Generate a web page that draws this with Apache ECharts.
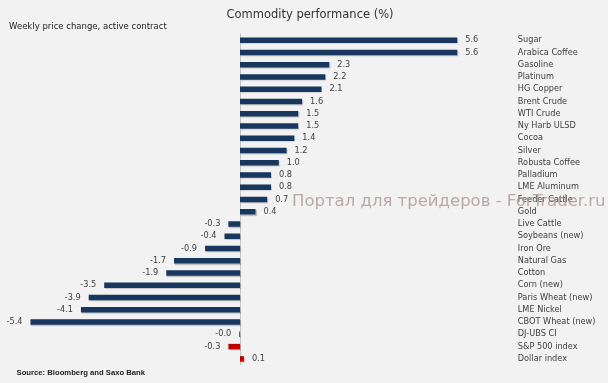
<!DOCTYPE html>
<html>
<head>
<meta charset="utf-8">
<script src="https://cdn.jsdelivr.net/npm/echarts@6/dist/echarts.min.js"></script>
<style>
html,body{margin:0;padding:0;background:#f2f2f2;}
#chart{width:608px;height:383px;}
</style>
</head>
<body>
<div id="chart"></div>
<script>
const categories = ["Sugar","Arabica Coffee","Gasoline","Platinum","HG Copper","Brent Crude","WTI Crude","Ny Harb ULSD","Cocoa","Silver","Robusta Coffee","Palladium","LME Aluminum","Feeder Cattle","Gold","Live Cattle","Soybeans (new)","Iron Ore","Natural Gas","Cotton","Corn (new)","Paris Wheat (new)","LME Nickel","CBOT Wheat (new)","DJ-UBS CI","S&P 500 index","Dollar index"];
const values = [5.6,5.6,2.3,2.2,2.1,1.6,1.5,1.5,1.4,1.2,1.0,0.8,0.8,0.7,0.4,-0.3,-0.4,-0.9,-1.7,-1.9,-3.5,-3.9,-4.1,-5.4,-0.02,-0.3,0.1];
const indexCategories = ["DJ-UBS CI","S&P 500 index","Dollar index"];
const titleText = "Commodity performance (%)";
const subtitleText = "Weekly price change, active contract";
const sourceText = "Source: Bloomberg and Saxo Bank";
const watermarkText = "Портал для трейдеров - ForTrader.ru";

const font = "DejaVu Sans";
const chart = echarts.init(document.getElementById('chart'));
const data = values.map((v, i) => ({
  value: v,
  itemStyle: { color: indexCategories.includes(categories[i]) ? '#c00000' : '#17375e' },
  label: { position: v < 0 ? 'left' : 'right' }
}));
chart.setOption({
  backgroundColor: '#f2f2f2',
  animation: false,
  title: {
    text: titleText, left: 305, top: 4, textAlign: 'center',
    textStyle: { fontFamily: font, fontSize: 11.5, fontWeight: 'normal', color: '#333' }
  },
  grid: { left: 7.2, width: 465.6, top: 34, height: 331 },
  xAxis: { type: 'value', min: -6, max: 6, show: false },
  yAxis: [{
    type: 'category', data: categories, inverse: true,
    axisLine: { show: true, onZero: true, lineStyle: { color: '#c4c4c4', width: 1 } },
    axisTick: { show: false }, axisLabel: { show: false }
  }, {
    type: 'category', data: categories, inverse: true, position: 'right',
    axisLine: { show: false }, axisTick: { show: false },
    axisLabel: { margin: 45, align: 'left', fontFamily: font, fontSize: 8.2, color: '#404040' }
  }],
  series: [{
    type: 'bar', data: data, barWidth: 5.5, yAxisIndex: 0,
    itemStyle: { shadowColor: 'rgba(0,0,0,0.2)', shadowOffsetY: 1, shadowOffsetX: 1, shadowBlur: 1 },
    label: {
      show: true, distance: 8, fontFamily: font, fontSize: 8.2, color: '#404040',
      formatter: p => p.value.toFixed(1)
    }
  }],
  graphic: [
    { type: 'text', left: 9, top: 22.5, style: { text: subtitleText, font: '8.5px ' + font, fill: '#222' } },
    { type: 'text', left: 16.5, top: 368.5, style: { text: sourceText, font: 'bold 7.7px "Liberation Sans"', fill: '#222' } },
    { type: 'text', left: 292, top: 193.5, z: 100, style: { text: watermarkText, font: '16.5px ' + font, fill: 'rgba(170,150,150,0.8)' } }
  ]
});
</script>
</body>
</html>
